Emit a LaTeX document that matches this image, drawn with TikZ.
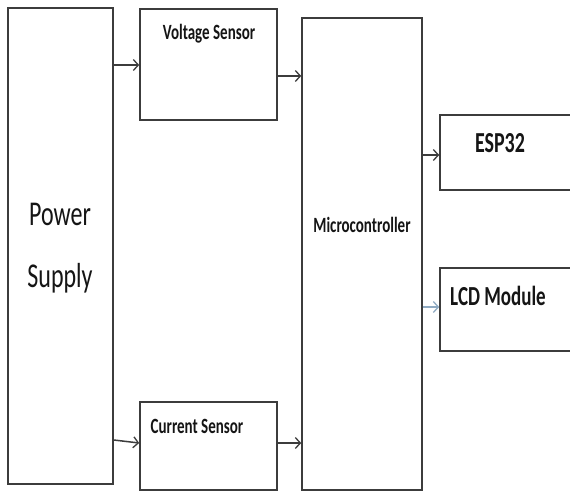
\documentclass[tikz,border=0pt]{standalone}
\usepackage{fontspec}
\setmainfont{Carlito}
\usetikzlibrary{arrows.meta}
\definecolor{linec}{HTML}{3C3C3C}
\definecolor{bluec}{HTML}{8FAAC2}
\definecolor{txtc}{HTML}{151515}
\begin{document}
\begin{tikzpicture}[x=1pt,y=-1pt,
  box/.style={draw=linec, line width=1.6pt, fill=white, inner sep=0pt},
  arr/.style={draw=linec, line width=1.5pt, -{Straight Barb[length=5pt,width=11pt,line width=1.3pt]}},
  lbl/.style={text=txtc, inner sep=0pt, anchor=base, yscale=1.45},
  bold/.style={lbl, font=\bfseries\fontsize{#1}{#1}\selectfont},
  reg/.style={lbl, font=\fontsize{#1}{#1}\selectfont}]
\fill[white] (0,0) rectangle (570,492);
\useasboundingbox (0,0) rectangle (570,492);
\clip (0,0) rectangle (570,492);
% boxes
\node[box, minimum width=105pt, minimum height=476pt] (ps) at (60.5,246) {};
\node[box, minimum width=137pt, minimum height=111pt] (vs) at (208.5,64.5) {};
\node[box, minimum width=137pt, minimum height=88pt] (cs) at (208.5,446) {};
\node[box, minimum width=120pt, minimum height=472pt] (mc) at (362,254) {};
\node[box, minimum width=160pt, minimum height=75pt] (esp) at (520,152.5) {};
\node[box, minimum width=160pt, minimum height=83pt] (lcd) at (520,309.5) {};
% labels
\node[reg=24] (t1) at (60,225) {Power};
\node[reg=24] (t2) at (60,287) {Supply};
\node[bold=15] (t3) at (209,40) {Voltage Sensor};
\node[bold=15] (t4) at (197,433) {Current Sensor};
\node[bold=15] (t5) at (362,232) {Microcontroller};
\node[bold=20] (t6) at (500,153) {ESP32};
\node[bold=19] (t7) at (498,305) {LCD Module};
% connectors
\draw[arr] (ps.east |- 0,65) -- (vs.west |- 0,65);
\draw[arr] (vs.east |- 0,76) -- (mc.west |- 0,76);
\draw[arr] (ps.east |- 0,440) -- (cs.west |- 0,443);
\draw[arr] (cs.east |- 0,443) -- (mc.west |- 0,443);
\draw[arr] (mc.east |- 0,155) -- (esp.west |- 0,155);
\draw[arr, draw=bluec] (mc.east |- 0,307) -- (lcd.west |- 0,307);
\end{tikzpicture}
\end{document}
